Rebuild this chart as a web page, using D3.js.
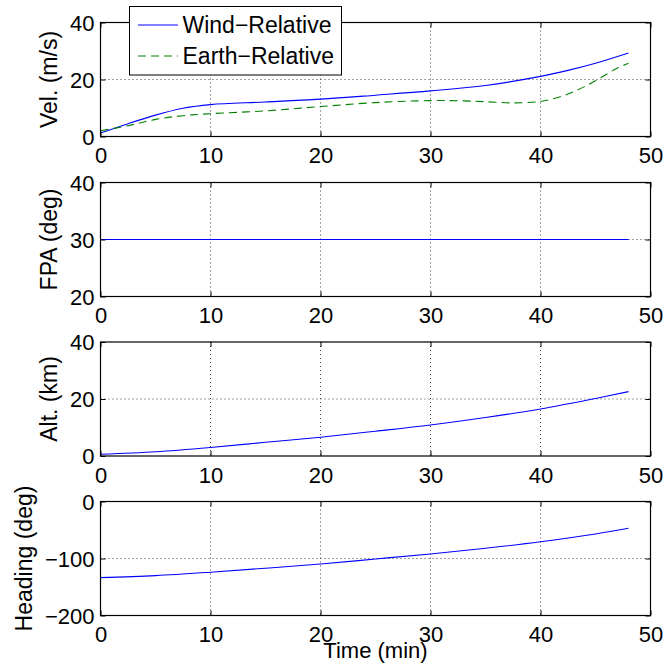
<!DOCTYPE html>
<html>
<head>
<meta charset="utf-8">
<script src="https://cdn.jsdelivr.net/npm/d3@7"></script>
<style>
  html, body { margin: 0; padding: 0; background: #fff; }
  svg { display: block; }
  text { font-family: "Liberation Sans", Helvetica, Arial, sans-serif; fill: #000; }
</style>
</head>
<body>
<svg id="chart" width="665" height="672"></svg>
<script>
// Trajectory history: velocity, flight-path angle, altitude and heading vs time
const timeTicks = [0, 10, 20, 30, 40, 50];

const timeVel = [0, 2.5, 5, 7.5, 10, 15, 20, 25, 30, 35, 40, 42.5, 45, 48];
const windVel = [1.2, 4.5, 7.5, 9.9, 11.2, 12.1, 13.1, 14.5, 16.0, 17.9, 21.1, 23.2, 25.7, 29.3];

const timeEarth = [0, 2.5, 5, 7.5, 10, 15, 20, 25, 30, 33, 35, 37.5, 40, 41, 42.5, 44, 45.5, 47, 48];
const earthVel = [2.0, 3.8, 6.0, 7.3, 8.0, 9.0, 10.5, 11.9, 12.6, 12.5, 12.2, 11.8, 12.3, 13.1, 14.9, 17.5, 20.7, 24.0, 25.7];

const timeFpa = [0, 48];
const fpa = [30, 30];

const timeAlt = [0, 5, 10, 15, 20, 25, 30, 35, 40, 45, 48];
const altitude = [0.6, 1.5, 3.0, 4.8, 6.6, 8.7, 10.9, 13.5, 16.5, 20.2, 22.6];
const heading = [-133.6, -130, -124, -117, -109.6, -100.9, -92, -82, -70.6, -57, -47];

const velTicks = [0, 20, 40];
const fpaTicks = [20, 30, 40];
const altTicks = [0, 20, 40];
const headingTicks = [-200, -100, 0];

const legendLabels = ["Wind\u2212Relative", "Earth\u2212Relative"];

const BLUE = "#0000ff";
const GREEN = "#008000";

const panels = [
  { label: "Vel. (m/s)", ticks: velTicks,
    series: [
      { t: timeVel, v: windVel, color: BLUE, dash: null },
      { t: timeEarth, v: earthVel, color: GREEN, dash: "8,5" }
    ] },
  { label: "FPA (deg)", ticks: fpaTicks,
    series: [{ t: timeFpa, v: fpa, color: BLUE, dash: null }] },
  { label: "Alt. (km)", ticks: altTicks,
    series: [{ t: timeAlt, v: altitude, color: BLUE, dash: null }] },
  { label: "Heading (deg)", ticks: headingTicks,
    series: [{ t: timeAlt, v: heading, color: BLUE, dash: null }] }
];

const svg = d3.select("#chart");
const left = 100.5, right = 650.5, plotH = 114;
const tops = [22.5, 182.5, 342, 501.5];
const TICK_FONT = 22;
const LABEL_FONT = 23;
const TICK = 5;

const x = d3.scaleLinear().domain([0, 50]).range([left, right]);

panels.forEach((p, i) => {
  const top = tops[i], bottom = top + plotH;
  const y = d3.scaleLinear().domain([p.ticks[0], p.ticks[p.ticks.length - 1]]).range([bottom, top]);
  const g = svg.append("g");

  // dotted grid at interior ticks
  g.selectAll(".gx").data(timeTicks.slice(1, -1)).join("line")
    .attr("x1", d => x(d)).attr("x2", d => x(d))
    .attr("y1", top).attr("y2", bottom)
    .attr("stroke", "#444").attr("stroke-width", 1).attr("stroke-dasharray", "1,3");
  g.selectAll(".gy").data(p.ticks.slice(1, -1)).join("line")
    .attr("x1", left).attr("x2", right)
    .attr("y1", d => y(d)).attr("y2", d => y(d))
    .attr("stroke", "#444").attr("stroke-width", 1).attr("stroke-dasharray", "1,3");

  // data lines
  p.series.forEach(s => {
    const pts = s.t.map((t, k) => [t, s.v[k]]);
    const line = d3.line().x(d => x(d[0])).y(d => y(d[1])).curve(d3.curveCatmullRom.alpha(0.5));
    g.append("path").datum(pts)
      .attr("d", line).attr("fill", "none")
      .attr("stroke", s.color).attr("stroke-width", 1.1)
      .attr("stroke-dasharray", s.dash);
  });

  // axes with inward ticks on all sides
  const xb = d3.axisBottom(x).tickValues(timeTicks).tickSizeInner(-TICK).tickSizeOuter(0).tickFormat(d3.format("d"));
  const xt = d3.axisTop(x).tickValues(timeTicks).tickSizeInner(-TICK).tickSizeOuter(0).tickFormat("");
  const yl = d3.axisLeft(y).tickValues(p.ticks).tickSizeInner(-TICK).tickSizeOuter(0).tickPadding(6).tickFormat(d3.format("d"));
  const yr = d3.axisRight(y).tickValues(p.ticks).tickSizeInner(-TICK).tickSizeOuter(0).tickFormat("");

  const gxb = g.append("g").attr("transform", `translate(0,${bottom})`).call(xb);
  g.append("g").attr("transform", `translate(0,${top})`).call(xt);
  const gyl = g.append("g").attr("transform", `translate(${left},0)`).call(yl);
  g.append("g").attr("transform", `translate(${right},0)`).call(yr);

  g.selectAll(".domain").remove();
  g.selectAll(".tick line").attr("stroke", "#000").attr("stroke-width", 1);
  gxb.selectAll("text").attr("font-size", TICK_FONT).attr("dy", null).attr("y", 26.5);
  gyl.selectAll("text").attr("font-size", TICK_FONT).attr("dy", "0.36em");
  g.selectAll(".tick text").attr("font-family", "'Liberation Sans', Helvetica, Arial, sans-serif").attr("fill", "#000");

  // frame
  g.append("rect").attr("x", left).attr("y", top)
    .attr("width", right - left).attr("height", plotH)
    .attr("fill", "none").attr("stroke", "#000").attr("stroke-width", 1.2);

  // y label, placed just left of the widest tick label
  let minX = left;
  gyl.selectAll("text").each(function () {
    const b = this.getBBox();
    minX = Math.min(minX, left + b.x);
  });
  svg.append("text")
    .attr("transform", `translate(${minX - 13},${top + plotH / 2}) rotate(-90)`)
    .attr("text-anchor", "middle")
    .attr("font-size", LABEL_FONT)
    .text(p.label);
});

// x-axis title
svg.append("text")
  .attr("x", (left + right) / 2).attr("y", 658)
  .attr("text-anchor", "middle").attr("font-size", TICK_FONT)
  .text("Time (min)");

// legend in the top panel
const leg = svg.append("g");
leg.append("rect").attr("x", 129.5).attr("y", 6.5).attr("width", 212).attr("height", 68.5)
  .attr("fill", "#fff").attr("stroke", "#000").attr("stroke-width", 1);
const legRows = [
  { label: legendLabels[0], color: BLUE, dash: null, y: 25 },
  { label: legendLabels[1], color: GREEN, dash: "8,5", y: 56 }
];
legRows.forEach(r => {
  leg.append("line").attr("x1", 138).attr("x2", 178).attr("y1", r.y).attr("y2", r.y)
    .attr("stroke", r.color).attr("stroke-width", 1.1).attr("stroke-dasharray", r.dash);
  leg.append("text").attr("x", 182.5).attr("y", r.y + 8).attr("font-size", LABEL_FONT).text(r.label);
});
</script>
</body>
</html>
